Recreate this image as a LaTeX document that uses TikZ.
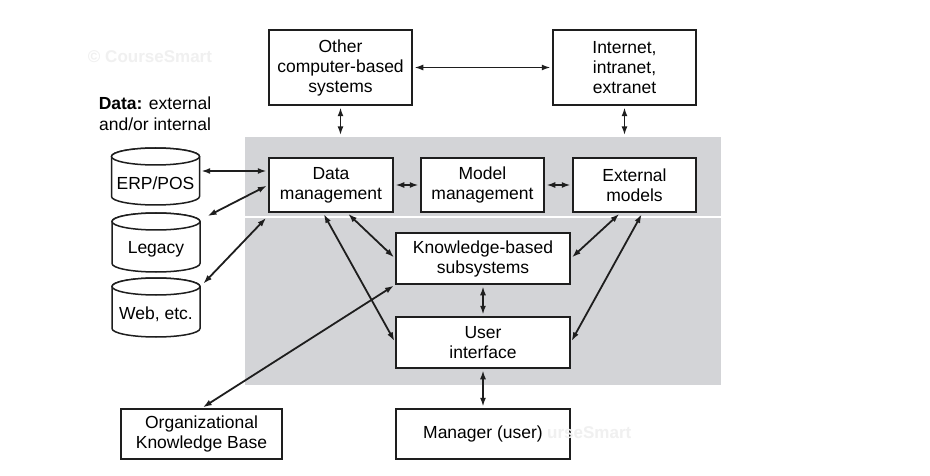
\documentclass[tikz,border=0pt]{standalone}
\usepackage{fontspec}
\setmainfont{Liberation Sans}
\usetikzlibrary{arrows.meta,calc}
\definecolor{dssgray}{RGB}{211,212,215}
\definecolor{ink}{RGB}{30,30,30}
\newcommand\dbcyl[5]{% name, cx, ytop, ybottom, text
  \path[cyl] (#2-44,-#3-8.5) -- (#2-44,-#4+8.5)
    arc[start angle=180,end angle=360,x radius=44pt,y radius=8.5pt]
    -- (#2+44,-#3-8.5)
    arc[start angle=0,end angle=180,x radius=44pt,y radius=8.5pt] -- cycle;
  \draw[cyl] (#2,-#3-8.5) ellipse[x radius=44pt,y radius=8.5pt];
  \node[inner sep=0pt,minimum width=88pt,minimum height=#4-#3] (#1) at (#2,-#3/2-#4/2) {};
  \node[lbl] (#1t) at (#2,-#3/2-#4/2-7) {#5};
}
\begin{document}
\begin{tikzpicture}[x=1pt,y=1pt,
  txt/.style={font=\fontsize{17.5}{20}\selectfont},
  box/.style={txt,draw=ink,line width=1.5pt,fill=white,inner sep=0pt,align=center},
  lbl/.style={txt,inner sep=0pt,align=center},
  link/.style={draw=ink,line width=1.8pt,
    {Latex[length=9pt,width=6pt]}-{Latex[length=9pt,width=6pt]},
    shorten <=1.5pt,shorten >=1.5pt},
  cyl/.style={draw=ink,line width=1.5pt,fill=white},
  wm/.style={text=black!6,font=\fontsize{17}{20}\selectfont\bfseries,inner sep=0pt}]
\useasboundingbox (0,0) rectangle (930,-476);
\fill[white] (0,0) rectangle (930,-476);
% DSS region
\node[fill=dssgray,minimum width=476pt,minimum height=248pt,inner sep=0pt] (dss) at (483,-261) {};
\coordinate (sepL) at (245,-217);
\coordinate (sepR) at (721,-217);
\draw[white,line width=2pt] (sepL) -- (sepR);
% watermark
\node[wm] (wm1) at (150,-57) {© CourseSmart};
% boxes
\node[box,minimum width=143pt,minimum height=75pt] (other) at (340.5,-67.5) {Other\\computer-based\\systems};
\node[box,minimum width=143pt,minimum height=75pt] (inet) at (624.5,-67.5) {Internet,\\intranet,\\extranet};
\node[box,minimum width=124pt,minimum height=54pt] (dm) at (331,-185) {Data\\management};
\node[box,minimum width=123pt,minimum height=54pt] (mm) at (482.5,-185) {Model\\management};
\node[box,minimum width=123pt,minimum height=54pt] (em) at (634.5,-185) {External\\models};
\node[box,minimum width=174pt,minimum height=51pt] (kb) at (483,-258.5) {Knowledge-based\\subsystems};
\node[box,minimum width=174pt,minimum height=51pt] (ui) at (483,-342.5) {User\\interface};
\node[box,minimum width=174pt,minimum height=50pt] (mgr) at (483,-434) {Manager (user)};
\node[box,minimum width=161pt,minimum height=50pt] (okb) at (201.5,-434) {Organizational\\Knowledge Base};
% data label
\node[lbl,font=\fontsize{17.5}{21}\selectfont] (datalbl) at (155,-113.5) {\textbf{Data:} external\\and/or internal};
% cylinders
\dbcyl{erp}{155.5}{148}{205}{ERP/POS}
\dbcyl{legacy}{156}{213}{272}{Legacy}
\dbcyl{web}{156}{278}{337}{Web, etc.}
% connectors
\draw[link] (other.east) -- (inet.west);
\draw[link] (other.south) -- (other.south |- dss.north);
\draw[link] (inet.south) -- (inet.south |- dss.north);
\draw[link] ([yshift=14pt]dm.west) -- ([yshift=14pt]dm.west -| erp.east);
\draw[link] (dm.west) -- ($(legacy.north east)+(6,-4)$);
\draw[link] ($(dm.south west)+(-1,-4)$) -- ($(web.north east)+(2,-7)$);
\draw[link] (dm.east) -- (mm.west);
\draw[link] (mm.east) -- (em.west);
\draw[link] ([xshift=16pt]dm.south) -- (kb.west);
\draw[link] ([xshift=-8pt]dm.south) -- (ui.west);
\draw[link] ([xshift=-14pt]em.south) -- (kb.east);
\draw[link] ([xshift=8pt]em.south) -- (ui.east);
\draw[link] (kb.south) -- (ui.north);
\draw[link] (ui.south) -- (mgr.north);
\draw[link] (okb.north) -- (kb.south west);
\node[wm,anchor=west] (wm2) at (547,-433) {urseSmart};
\end{tikzpicture}
\end{document}
